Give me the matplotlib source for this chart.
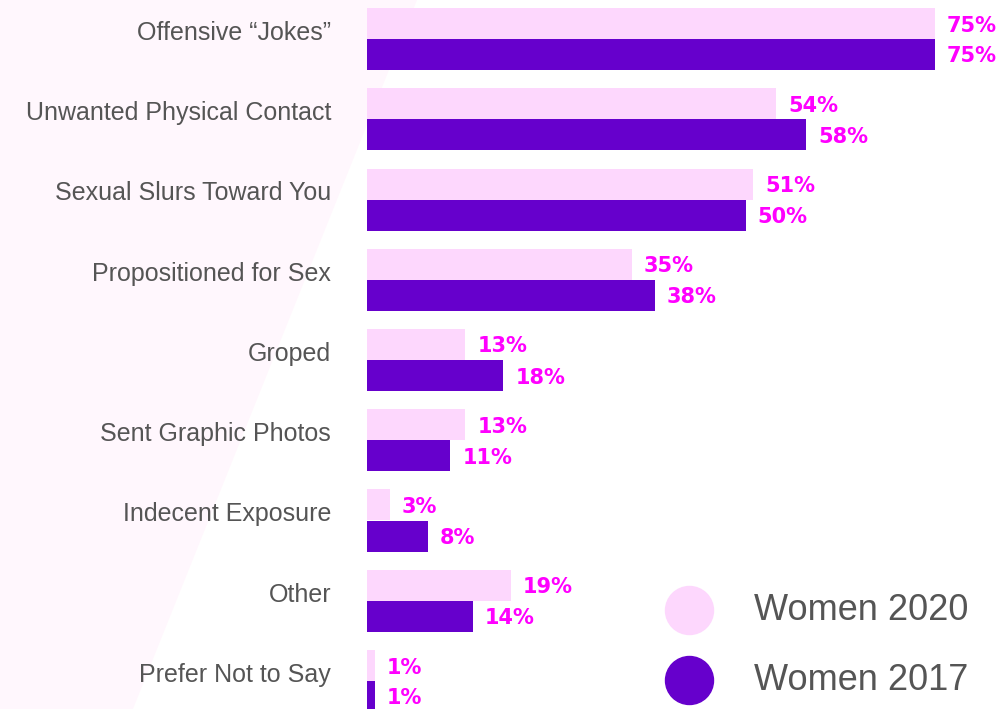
import matplotlib.pyplot as plt
from matplotlib.patches import Polygon

categories = ["Offensive \u201cJokes\u201d", "Unwanted Physical Contact", "Sexual Slurs Toward You",
              "Propositioned for Sex", "Groped", "Sent Graphic Photos", "Indecent Exposure",
              "Other", "Prefer Not to Say"]
women_2020 = [75, 54, 51, 35, 13, 13, 3, 19, 1]
women_2017 = [75, 58, 50, 38, 18, 11, 8, 14, 1]
series_names = ["Women 2020", "Women 2017"]

PINK = "#FDD7FD"
PURPLE = "#6600CC"
MAGENTA = "#FF00FF"
GREY = "#555555"
DPI = 100
W, H = 1005, 709

fig = plt.figure(figsize=(W / DPI, H / DPI), dpi=DPI)
fig.patch.set_facecolor("white")

# faint pink wedge behind the labels
wedge = Polygon([(0, 1), (417 / W, 1), (133 / W, 0), (0, 0)], closed=True,
                transform=fig.transFigure, facecolor="#FFF7FD", edgecolor="none", zorder=-10)
fig.patches.append(wedge)

left = 367 / W
ax = fig.add_axes([left, 0, 1 - left, 1])
ax.set_zorder(1)
ax.patch.set_alpha(0)
for s in ax.spines.values():
    s.set_visible(False)
ax.set_xticks([])
ax.set_yticks([])

px_per_unit = 80.25
y0 = 39.0
ax.set_ylim((H - y0) / px_per_unit, -y0 / px_per_unit)
ax.set_xlim(0, (W - 367) / 7.573)

bh = 31 / px_per_unit
ys = list(range(len(categories)))
ax.barh([y - bh / 2 for y in ys], women_2020, height=bh, color=PINK, zorder=2)
ax.barh([y + bh / 2 for y in ys], women_2017, height=bh, color=PURPLE, zorder=2)

pt = 72 / DPI
for y, a, b in zip(ys, women_2020, women_2017):
    for val, yy in ((a, y - bh / 2), (b, y + bh / 2)):
        ax.annotate(f"{val}%", (val, yy), xytext=(12 * pt, -2 * pt), textcoords="offset points",
                    ha="left", va="center", color=MAGENTA, fontsize=15, fontweight="heavy",
                    family="DejaVu Sans", annotation_clip=False)

for y, cat in zip(ys, categories):
    ax.annotate(cat, (0, y), xytext=(-36 * pt, 6 * pt), textcoords="offset points",
                ha="right", va="center", color=GREY, fontsize=18, family="Liberation Sans",
                annotation_clip=False)

# legend drawn by hand
for name, color, yc in zip(series_names, [PINK, PURPLE], [610, 680]):
    fig.lines.append(plt.Line2D([689 / W], [1 - yc / H], marker="o", markersize=48 * pt,
                                color=color, transform=fig.transFigure, linestyle="none"))
    fig.text(754 / W, 1 - yc / H, name, ha="left", va="center", color=GREY,
             fontsize=26, family="Liberation Sans")

fig.savefig("out.png", dpi=DPI)
